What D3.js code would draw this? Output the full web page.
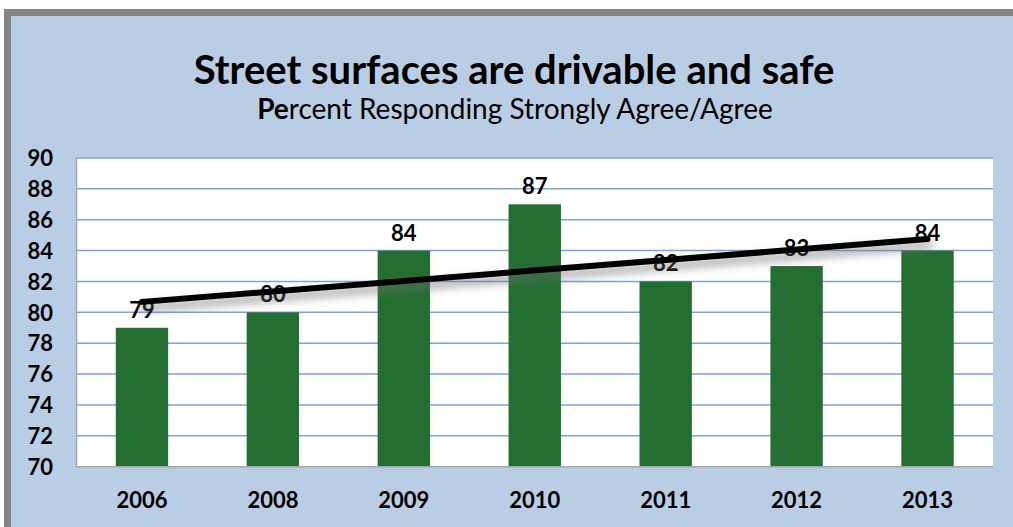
<!DOCTYPE html>
<html>
<head>
<meta charset="utf-8">
<script src="https://cdn.jsdelivr.net/npm/d3@7"></script>
<style>
  html, body { margin: 0; padding: 0; background: #ffffff; }
  svg { display: block; }
</style>
</head>
<body>
<svg id="chart" width="1013" height="527"></svg>
<script>
// Survey results: share of respondents who strongly agree / agree
const years = ["2006", "2008", "2009", "2010", "2011", "2012", "2013"];
const percentAgree = [79, 80, 84, 87, 82, 83, 84];
const yTicks = [70, 72, 74, 76, 78, 80, 82, 84, 86, 88, 90];
const titleText = "Street surfaces are drivable and safe";
const subtitleBold = "Pe";
const subtitleRest = "rcent Responding Strongly Agree/Agree";

const W = 1013, H = 527;
const svg = d3.select("#chart");
const font = "Lato, 'Open Sans', sans-serif";

// Frame: light blue chart area with a grey border on top and left
svg.append("rect").attr("x", 4).attr("y", 9).attr("width", W - 4).attr("height", H - 9).attr("fill", "#858585");
svg.append("rect").attr("x", 11).attr("y", 16).attr("width", W - 11).attr("height", H - 16).attr("fill", "#B9CDE5");

const plot = { left: 76.5, right: 993, top: 158, bottom: 466.7 };

const x = d3.scaleBand()
  .domain(years)
  .range([plot.left, plot.right])
  .paddingInner(0.6)
  .paddingOuter(0.3);

const y = d3.scaleLinear()
  .domain([70, 90])
  .range([plot.bottom, plot.top]);

// Plot background
svg.append("rect")
  .attr("x", plot.left).attr("y", plot.top)
  .attr("width", plot.right - plot.left).attr("height", plot.bottom - plot.top)
  .attr("fill", "#ffffff");

// Horizontal gridlines
svg.append("g")
  .selectAll("line")
  .data(yTicks.filter(t => t > 70))
  .join("line")
  .attr("x1", plot.left).attr("x2", plot.right)
  .attr("y1", d => y(d)).attr("y2", d => y(d))
  .attr("stroke", "#7FA3D6").attr("stroke-width", 1.5);

// Y axis labels
const yAxis = d3.axisLeft(y).tickValues(yTicks).tickSize(0).tickPadding(0);
const gy = svg.append("g").attr("transform", `translate(53,0)`).call(yAxis);
gy.select(".domain").remove();
gy.selectAll("text")
  .attr("font-family", font).attr("font-weight", 700).attr("font-size", 22)
  .attr("fill", "#000").attr("dy", "0.35em");

// Bars
svg.append("g")
  .selectAll("rect")
  .data(years.map((yr, i) => ({ yr, v: percentAgree[i] })))
  .join("rect")
  .attr("x", d => x(d.yr))
  .attr("y", d => y(d.v))
  .attr("width", x.bandwidth())
  .attr("height", d => y(70) - y(d.v))
  .attr("fill", "#246E31");

// Axis lines (left and bottom)
svg.append("line")
  .attr("x1", plot.left).attr("x2", plot.left)
  .attr("y1", plot.top).attr("y2", plot.bottom)
  .attr("stroke", "#A6A6A6").attr("stroke-width", 1.5);
svg.append("line")
  .attr("x1", plot.left).attr("x2", plot.right)
  .attr("y1", plot.bottom).attr("y2", plot.bottom)
  .attr("stroke", "#A6A6A6").attr("stroke-width", 1.5);

// X axis labels
const xAxis = d3.axisBottom(x).tickSize(0).tickPadding(0);
const gx = svg.append("g").attr("transform", `translate(0,508)`).call(xAxis);
gx.select(".domain").remove();
gx.selectAll("text")
  .attr("font-family", font).attr("font-weight", 700).attr("font-size", 22)
  .attr("fill", "#000").attr("dy", 0);

// Value labels above bars
svg.append("g")
  .selectAll("text")
  .data(years.map((yr, i) => ({ yr, v: percentAgree[i] })))
  .join("text")
  .attr("x", d => x(d.yr) + x.bandwidth() / 2)
  .attr("y", d => y(d.v) - 10)
  .attr("text-anchor", "middle")
  .attr("font-family", font).attr("font-weight", 700).attr("font-size", 22)
  .attr("fill", "#000")
  .text(d => d.v);

// Linear trend line (least squares over category index)
const n = percentAgree.length;
const idx = d3.range(1, n + 1);
const mx = d3.mean(idx), my = d3.mean(percentAgree);
const slope = d3.sum(idx, (k, i) => (k - mx) * (percentAgree[i] - my)) / d3.sum(idx, k => (k - mx) ** 2);
const intercept = my - slope * mx;
const trendPts = [
  [x(years[0]) + x.bandwidth() / 2, y(intercept + slope * 1)],
  [x(years[n - 1]) + x.bandwidth() / 2, y(intercept + slope * n)]
];

const defs = svg.append("defs");
defs.append("filter").attr("id", "trendShadow")
  .attr("x", "-10%").attr("y", "-200%").attr("width", "120%").attr("height", "500%")
  .append("feGaussianBlur").attr("stdDeviation", 4);

const line = d3.line();
svg.append("path")
  .attr("d", line(trendPts))
  .attr("transform", "translate(2,6)")
  .attr("stroke", "#6b6b6b").attr("stroke-width", 8).attr("stroke-opacity", 0.55)
  .attr("stroke-linecap", "round").attr("fill", "none")
  .attr("filter", "url(#trendShadow)");
svg.append("path")
  .attr("d", line(trendPts))
  .attr("stroke", "#000").attr("stroke-width", 6)
  .attr("stroke-linecap", "round").attr("fill", "none");

// Titles
svg.append("text")
  .attr("x", 514).attr("y", 84)
  .attr("text-anchor", "middle")
  .attr("font-family", font).attr("font-weight", 700).attr("font-size", 40)
  .attr("fill", "#000")
  .text(titleText);

const sub = svg.append("text")
  .attr("x", 515).attr("y", 119)
  .attr("text-anchor", "middle")
  .attr("font-family", font).attr("font-size", 28)
  .attr("fill", "#000");
sub.append("tspan").attr("font-weight", 700).text(subtitleBold);
sub.append("tspan").attr("font-weight", 400).text(subtitleRest);
</script>
</body>
</html>
